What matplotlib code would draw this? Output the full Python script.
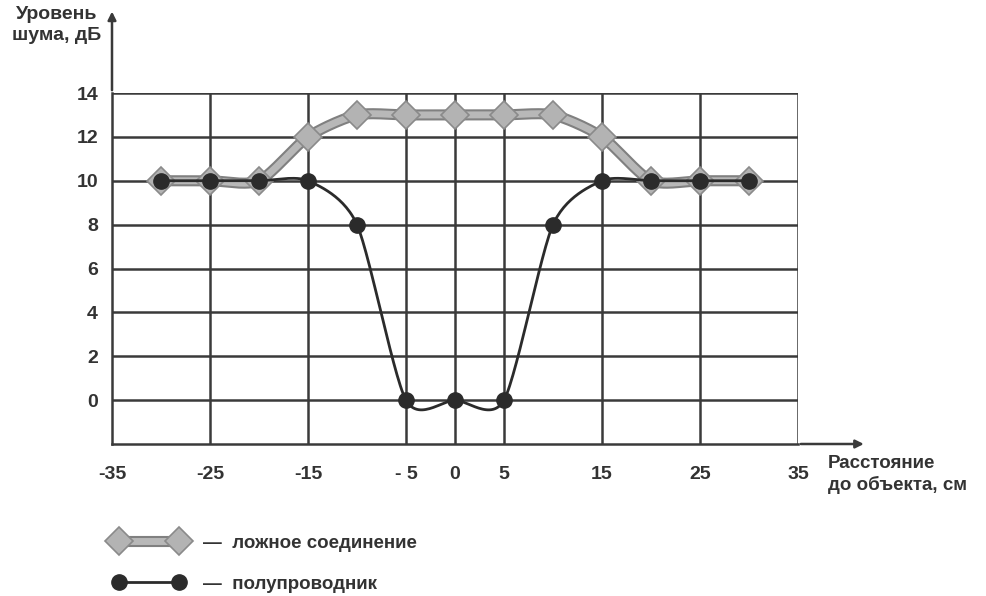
import numpy as np
import matplotlib
matplotlib.use("Agg")
import matplotlib.pyplot as plt
import matplotlib.patheffects as pe

# Данные
distance = [-30, -25, -20, -15, -10, -5, 0, 5, 10, 15, 20, 25, 30]
false_joint = [10, 10, 10, 12, 13, 13, 13, 13, 13, 12, 10, 10, 10]
semiconductor = [10, 10, 10, 10, 8, 0, 0, 0, 8, 10, 10, 10, 10]
x_ticks = [-35, -25, -15, -5, 0, 5, 15, 25, 35]
x_ticklabels = ["-35", "-25", "-15", "- 5", "0", "5", "15", "25", "35"]
y_ticks = [0, 2, 4, 6, 8, 10, 12, 14]
label_false = "—  ложное соединение"
label_semi = "—  полупроводник"


def smooth(x, y, n=30, k=8):
    # сглаживание как в Excel (Catmull-Rom через кривые Безье)
    x = np.asarray(x, float)
    y = np.asarray(y, float)
    xs, ys = [], []
    for i in range(len(x) - 1):
        i0 = max(i - 1, 0)
        i3 = min(i + 2, len(x) - 1)
        p0 = np.array([x[i], y[i]])
        p3 = np.array([x[i + 1], y[i + 1]])
        c1 = p0 + (np.array([x[i + 1], y[i + 1]]) - np.array([x[i0], y[i0]])) / k
        c2 = p3 - (np.array([x[i3], y[i3]]) - np.array([x[i], y[i]])) / k
        t = np.linspace(0, 1, n)[:, None]
        pts = ((1 - t) ** 3) * p0 + 3 * ((1 - t) ** 2) * t * c1 + 3 * (1 - t) * t ** 2 * c2 + t ** 3 * p3
        xs.extend(pts[:, 0])
        ys.extend(pts[:, 1])
    return xs, ys


plt.rcParams['font.family'] = ['Liberation Sans', 'DejaVu Sans']
plt.rcParams['font.weight'] = 'bold'

fig = plt.figure(figsize=(9.86, 5.96), dpi=100)
ax = fig.add_axes([112 / 986, 1 - 444 / 596, 686 / 986, 351 / 596])
ax.set_xlim(-35, 35)
ax.set_ylim(-2, 14)

grid_col = '#3a3a3a'
for yv in y_ticks:
    ax.axhline(yv, color=grid_col, lw=1.8, zorder=1)
for xv in x_ticks[1:]:
    ax.axvline(xv, color=grid_col, lw=1.8, zorder=1)
for s in ['top', 'right']:
    ax.spines[s].set_visible(False)
for s in ['left', 'bottom']:
    ax.spines[s].set_color(grid_col)
    ax.spines[s].set_linewidth(1.8)

ax.set_xticks(x_ticks)
ax.set_xticklabels(x_ticklabels)
ax.set_yticks(y_ticks)
ax.tick_params(length=0, labelsize=14, colors='#333333')
ax.tick_params(axis='x', pad=16)
ax.tick_params(axis='y', pad=10)

# стрелки осей
ax.annotate('', xy=(0, 1.24), xytext=(0, 1.0), xycoords='axes fraction',
            arrowprops=dict(arrowstyle='-|>', color=grid_col, lw=1.8, mutation_scale=12), annotation_clip=False)
ax.annotate('', xy=(1.1, 0), xytext=(1.0, 0), xycoords='axes fraction',
            arrowprops=dict(arrowstyle='-|>', color=grid_col, lw=1.8, mutation_scale=12), annotation_clip=False)

# ложное соединение
sx, sy = smooth(distance, false_joint)
l1, = ax.plot(sx, sy, color='#b8b8b8', lw=5, solid_capstyle='butt', zorder=3,
              path_effects=[pe.Stroke(linewidth=8, foreground='#808080'), pe.Normal()], clip_on=False)
m1, = ax.plot(distance, false_joint, ls='none', marker='D', ms=14, mfc='#b3b3b3', mec='#8a8a8a', mew=1.2,
              zorder=4, clip_on=False)

# полупроводник
sx2, sy2 = smooth(distance, semiconductor)
l2, = ax.plot(sx2, sy2, color='#2b2b2b', lw=2, zorder=5, clip_on=False)
m2, = ax.plot(distance, semiconductor, ls='none', marker='o', ms=11, mfc='#2b2b2b', mec='#2b2b2b',
              zorder=6, clip_on=False)

fig.text(57 / 986, 1 - 6 / 596, "Уровень\nшума, дБ", ha='center', va='top', fontsize=14,
         color='#333333', linespacing=1.3, multialignment='center')
fig.text(828 / 986, 1 - 455 / 596, "Расстояние\nдо объекта, см", ha='left', va='top', fontsize=13.5,
         color='#333333', linespacing=1.3)

fig.legend(handles=[(l1, m1), (l2, m2)], labels=[label_false, label_semi], loc='upper left',
           bbox_to_anchor=(96 / 986, 1 - 518 / 596), frameon=False, numpoints=2, handlelength=3.8,
           handletextpad=1.0, labelspacing=1.25, prop={'size': 13.5, 'weight': 'bold'}, labelcolor='#333333')

fig.savefig('out.png', dpi=100)
